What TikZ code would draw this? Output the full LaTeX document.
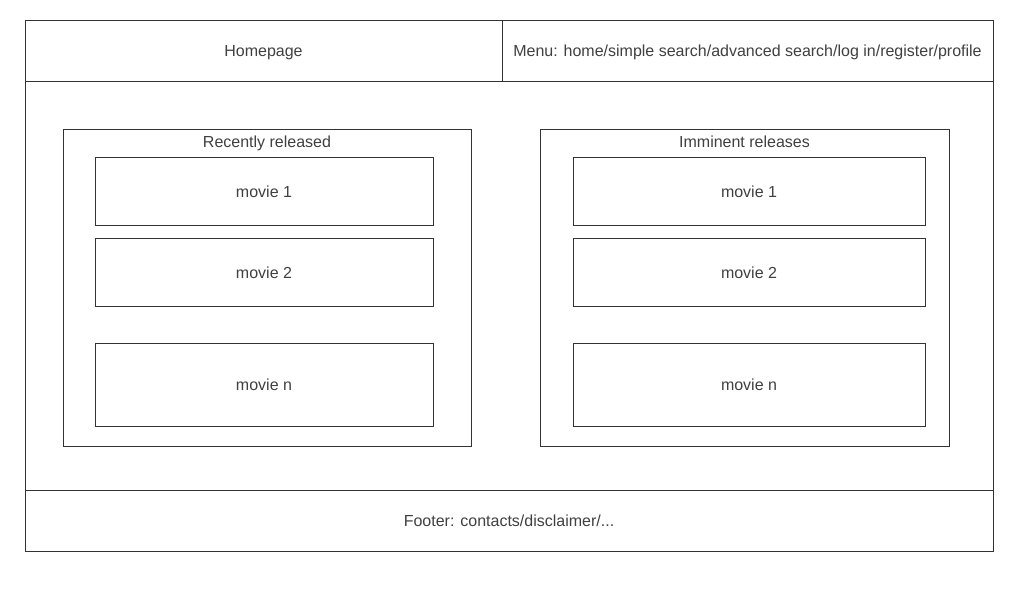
\documentclass[tikz,border=0pt]{standalone}
\usepackage{fontspec}
\setmainfont{Liberation Sans}
\begin{document}
\begin{tikzpicture}[x=1pt,y=-1pt,
  box/.style={draw=black!80,line width=0.8pt},
  lbl/.style={text=black!75,font=\fontsize{16}{19}\selectfont,inner sep=0pt,anchor=base}]
\useasboundingbox[fill=white] (0,0) rectangle (1024,600);
% outer frame
\draw[box] (25,20) rectangle (993,551);
\draw[box] (25,81) -- (993,81);
\draw[box] (25,490) -- (993,490);
\draw[box] (502,20) -- (502,81);
\node[lbl] (home) at (263.5,56.3) {Homepage};
\node[lbl] (menu) at (747.5,56.3) {Menu: home/simple search/advanced search/log in/register/profile};
\node[lbl] (foot) at (509,526.3) {Footer: contacts/disclaimer/...};
% left container
\draw[box] (63,129) rectangle (471,446);
\node[lbl] (lt) at (267,147.3) {Recently released};
\draw[box] (95,157) rectangle (433,225);
\node[lbl] (l1) at (264,197.3) {movie 1};
\draw[box] (95,238) rectangle (433,306);
\node[lbl] (l2) at (264,278.3) {movie 2};
\draw[box] (95,343) rectangle (433,426);
\node[lbl] (ln) at (264,390.3) {movie n};
% right container
\draw[box] (540,129) rectangle (949,446);
\node[lbl] (rt) at (744.5,147.3) {Imminent releases};
\draw[box] (573,157) rectangle (925,225);
\node[lbl] (r1) at (749,197.3) {movie 1};
\draw[box] (573,238) rectangle (925,306);
\node[lbl] (r2) at (749,278.3) {movie 2};
\draw[box] (573,343) rectangle (925,426);
\node[lbl] (rn) at (749,390.3) {movie n};
\end{tikzpicture}
\end{document}
